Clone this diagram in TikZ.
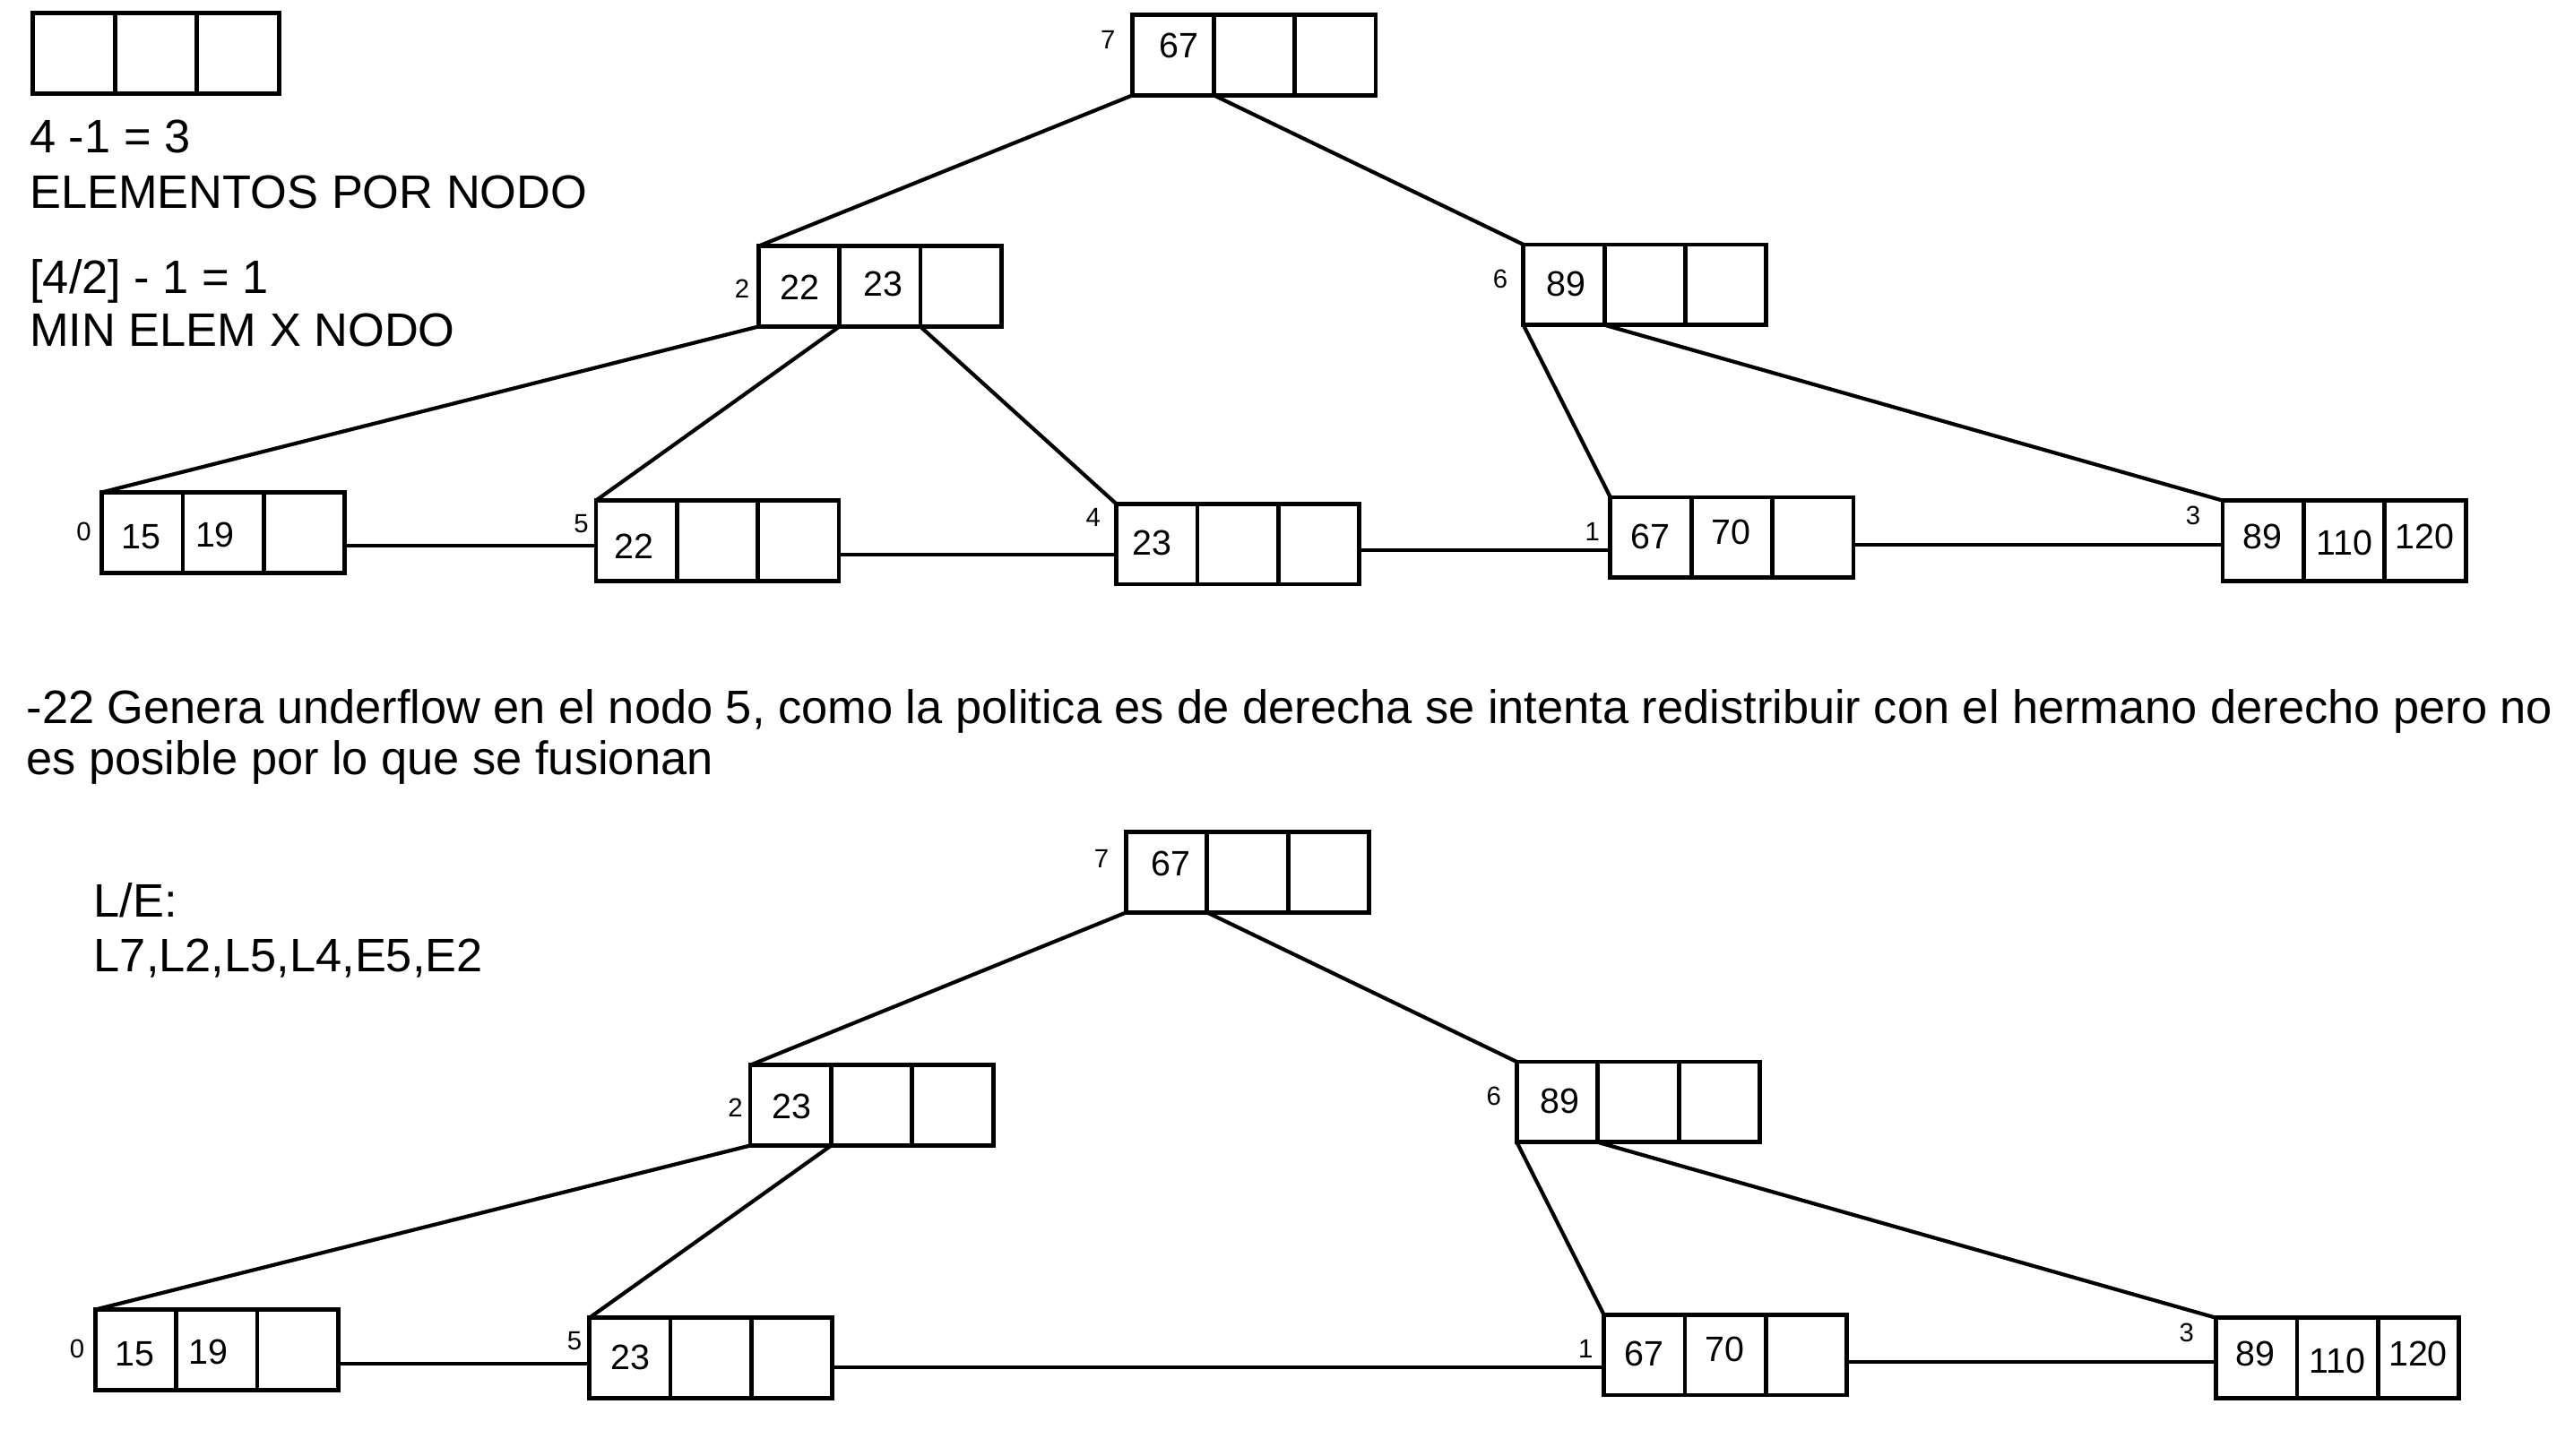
\documentclass[tikz,border=0pt]{standalone}
\usepackage{fontspec}
\setmainfont{Liberation Sans}
\newcommand\bnode[3]{%
  \node[cell,anchor=north west] (#1a) at (#2,#3) {};
  \node[cell,anchor=west] (#1b) at (#1a.east) {};
  \node[cell,anchor=west] (#1c) at (#1b.east) {};}
\begin{document}
\begin{tikzpicture}[x=1pt,y=-1pt,
  cell/.style={draw, line width=2.6pt, minimum width=49.33pt, minimum height=49pt, inner sep=0pt, outer sep=0pt},
  lcell/.style={cell, minimum width=50pt},
  val/.style={font=\fontsize{21.5}{24}\selectfont, inner sep=0pt},
  idx/.style={font=\fontsize{16}{18}\selectfont, inner sep=0pt},
  txt/.style={font=\fontsize{28.6}{34}\selectfont, inner sep=0pt, anchor=base west},
  link/.style={line width=2.3pt}]
\useasboundingbox (0,0) rectangle (1568,887);
% legend
\node[lcell,anchor=north west] (La) at (20,8) {};
\node[lcell,anchor=west] (Lb) at (La.east) {};
\node[lcell,anchor=west] (Lc) at (Lb.east) {};
\node[txt] (t1) at (18,93) {4 -1 = 3};
\node[txt] (t2) at (18,127) {ELEMENTOS POR NODO};
\node[txt] (t3) at (18,179) {[4/2] - 1 = 1};
\node[txt] (t4) at (18,211) {MIN ELEM X NODO};
% ---------- tree 1 ----------
\bnode{A7}{690}{9}
\bnode{A2}{462}{150}
\bnode{A6}{928}{149}
\bnode{A0}{62}{300}
\bnode{A5}{363}{305}
\bnode{A4}{680}{307}
\bnode{A1}{981}{303}
\bnode{A3}{1354}{305}
\node[idx] (iA7) at (675,24.5) {7};
\node[val] (vA7) at (718,28) {67};
\node[idx] (iA2) at (452,176) {2};
\node[val] (vA2a) at (487,175) {22};
\node[val] (vA2b) at (538,173) {23};
\node[idx] (iA6) at (914,170) {6};
\node[val] (vA6) at (954,173) {89};
\node[idx] (iA0) at (51,324) {0};
\node[val] (vA0a) at (86,327) {15};
\node[val] (vA0b) at (131,326) {19};
\node[idx] (iA5) at (354,319) {5};
\node[val] (vA5) at (386,333) {22};
\node[idx] (iA4) at (666,315) {4};
\node[val] (vA4) at (702,331) {23};
\node[idx] (iA1) at (970,324) {1};
\node[val] (vA1a) at (1005.5,327) {67};
\node[val] (vA1b) at (1054.5,324) {70};
\node[idx] (iA3) at (1336,314) {3};
\node[val] (vA3a) at (1378,327) {89};
\node[val] (vA3b) at (1428,331) {110};
\node[val] (vA3c) at (1477,327) {120};
\draw[link] (A7a.south west) -- (A2a.north west);
\draw[link] (A7b.south west) -- (A6a.north west);
\draw[link] (A2a.south west) -- (A0a.north west);
\draw[link] (A2b.south west) -- (A5a.north west);
\draw[link] (A2c.south west) -- (A4a.north west);
\draw[link] (A6a.south west) -- (A1a.north west);
\draw[link] (A6b.south west) -- (A3a.north west);
\coordinate (yA05) at (0,332.5);
\coordinate (yA54) at (0,338);
\coordinate (yA41) at (0,335);
\coordinate (yA13) at (0,332);
\draw[link] (A0c.east |- yA05) -- (A5a.west |- yA05);
\draw[link] (A5c.east |- yA54) -- (A4a.west |- yA54);
\draw[link] (A4c.east |- yA41) -- (A1a.west |- yA41);
\draw[link] (A1c.east |- yA13) -- (A3a.west |- yA13);
% middle text
\node[txt] (m1) at (16,441) {-22 Genera underflow en el nodo 5, como la politica es de derecha se intenta redistribuir con el hermano derecho pero no};
\node[txt] (m2) at (16,472) {es posible por lo que se fusionan};
\node[txt] (le1) at (57,559) {L/E:};
\node[txt] (le2) at (57,592) {L7,L2,L5,L4,E5,E2};
% ---------- tree 2 ----------
\bnode{B7}{686}{507}
\bnode{B2}{457}{649}
\bnode{B6}{924}{647}
\bnode{B0}{58}{798}
\bnode{B5}{359}{803}
\bnode{B1}{977}{801}
\bnode{B3}{1350}{803}
\node[idx] (iB7) at (671,523) {7};
\node[val] (vB7) at (713.5,526) {67};
\node[idx] (iB2) at (448,675) {2};
\node[val] (vB2) at (482.5,674) {23};
\node[idx] (iB6) at (910,668) {6};
\node[val] (vB6) at (950,671) {89};
\node[idx] (iB0) at (47,822) {0};
\node[val] (vB0a) at (82,825) {15};
\node[val] (vB0b) at (127,824) {19};
\node[idx] (iB5) at (350,817) {5};
\node[val] (vB5) at (384,827) {23};
\node[idx] (iB1) at (966,822) {1};
\node[val] (vB1a) at (1001.5,825) {67};
\node[val] (vB1b) at (1050.5,822) {70};
\node[idx] (iB3) at (1332,812) {3};
\node[val] (vB3a) at (1374,825) {89};
\node[val] (vB3b) at (1424,829) {110};
\node[val] (vB3c) at (1473,825) {120};
\draw[link] (B7a.south west) -- (B2a.north west);
\draw[link] (B7b.south west) -- (B6a.north west);
\draw[link] (B2a.south west) -- (B0a.north west);
\draw[link] (B2b.south west) -- (B5a.north west);
\draw[link] (B6a.south west) -- (B1a.north west);
\draw[link] (B6b.south west) -- (B3a.north west);
\coordinate (yB05) at (0,831);
\coordinate (yB51) at (0,833);
\coordinate (yB13) at (0,830);
\draw[link] (B0c.east |- yB05) -- (B5a.west |- yB05);
\draw[link] (B5c.east |- yB51) -- (B1a.west |- yB51);
\draw[link] (B1c.east |- yB13) -- (B3a.west |- yB13);
\end{tikzpicture}
\end{document}
